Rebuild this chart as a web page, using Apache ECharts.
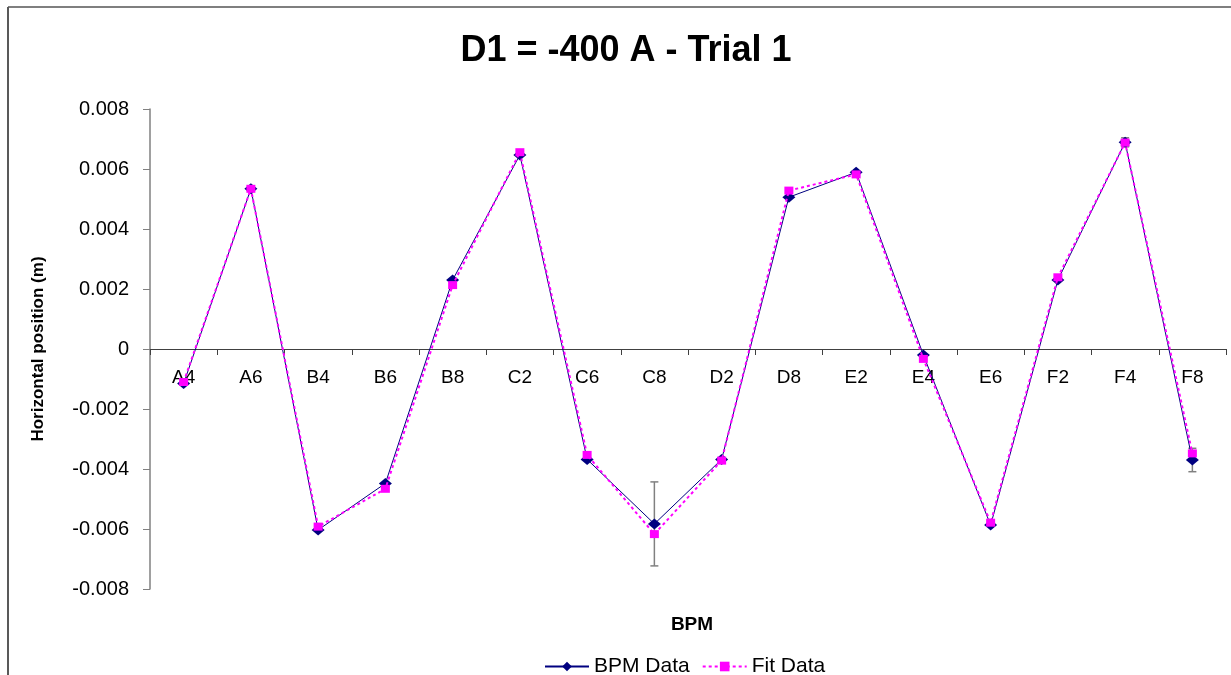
<!DOCTYPE html>
<html>
<head>
<meta charset="utf-8">
<title>D1 = -400 A - Trial 1</title>
<script src="https://cdn.jsdelivr.net/npm/echarts@6/dist/echarts.min.js"></script>
<style>
  html, body { margin: 0; padding: 0; background: #fff; }
  #chart { width: 1231px; height: 675px; }
</style>
</head>
<body>
<div id="chart"></div>
<script>
// BPM names along the ring
const bpmNames = ['A4', 'A6', 'B4', 'B6', 'B8', 'C2', 'C6', 'C8', 'D2', 'D8', 'E2', 'E4', 'E6', 'F2', 'F4', 'F8'];

// Measured horizontal position (m)
const bpmData = [-0.00115, 0.00534, -0.00603, -0.00448, 0.00230, 0.00647, -0.00368, -0.00583,
                 -0.00368, 0.00506, 0.00589, -0.00020, -0.00587, 0.00230, 0.00689, -0.00370];

// Measurement uncertainty (m)
const bpmError = [0, 0, 0, 0, 0, 0, 0, 0.00140,
                  0, 0, 0, 0, 0, 0, 0.00015, 0.00039];

// Fitted horizontal position (m)
const fitData = [-0.00110, 0.00534, -0.00592, -0.00466, 0.00213, 0.00656, -0.00353, -0.00617,
                 -0.00372, 0.00528, 0.00582, -0.00033, -0.00579, 0.00239, 0.00688, -0.00348];

// Y axis ticks
const yMin = -0.008, yMax = 0.008, yStep = 0.002;

const FONT = 'Liberation Sans, Arial, sans-serif';
const GRID_TOP = 109, GRID_BOTTOM = 86, CHART_H = 675;
// the category axis sits on the zero line, half way down the symmetric value range
const plotH = CHART_H - GRID_TOP - GRID_BOTTOM;
const zeroOffset = -plotH * (0 - yMin) / (yMax - yMin);

const chart = echarts.init(document.getElementById('chart'), null, { renderer: 'canvas' });

function renderErrorBar(params, api) {
  const err = api.value(2);
  if (!err) return null;
  const i = api.value(0), v = api.value(1);
  const hi = api.coord([i, v + err]);
  const lo = api.coord([i, v - err]);
  const cap = 4;
  const style = { stroke: '#808080', lineWidth: 1.5 };
  return {
    type: 'group',
    children: [
      { type: 'line', shape: { x1: hi[0], y1: hi[1], x2: lo[0], y2: lo[1] }, style },
      { type: 'line', shape: { x1: hi[0] - cap, y1: hi[1], x2: hi[0] + cap, y2: hi[1] }, style },
      { type: 'line', shape: { x1: lo[0] - cap, y1: lo[1], x2: lo[0] + cap, y2: lo[1] }, style }
    ]
  };
}

chart.setOption({
  animation: false,
  backgroundColor: '#ffffff',
  title: [
    {
      text: 'D1 = -400 A - Trial 1',
      left: 621, top: 28, textAlign: 'center',
      textStyle: { fontFamily: FONT, fontSize: 36, fontWeight: 'bold', color: '#000' }
    },
    {
      text: 'BPM',
      left: 687, top: 610, textAlign: 'center',
      textStyle: { fontFamily: FONT, fontSize: 19, fontWeight: 'bold', color: '#000' }
    }
  ],
  graphic: [
    { type: 'line', shape: { x1: 8, y1: 7, x2: 1231, y2: 7 }, style: { stroke: '#7f7f7f', lineWidth: 2 } },
    { type: 'line', shape: { x1: 8, y1: 7, x2: 8, y2: 675 }, style: { stroke: '#595959', lineWidth: 2 } }
  ],
  legend: {
    left: 539, top: 651,
    itemWidth: 44, itemHeight: 12, itemGap: 12,
    data: ['BPM Data', 'Fit Data'],
    textStyle: { fontFamily: FONT, fontSize: 21, color: '#000' }
  },
  grid: { left: 150, right: 5, top: GRID_TOP, bottom: GRID_BOTTOM },
  xAxis: {
    type: 'category',
    data: bpmNames,
    boundaryGap: true,
    position: 'bottom',
    offset: zeroOffset,
    axisLine: { onZero: false, lineStyle: { color: '#404040', width: 1 } },
    axisTick: { show: true, inside: false, length: 6, alignWithLabel: false, lineStyle: { color: '#404040' } },
    axisLabel: { margin: 19, fontFamily: FONT, fontSize: 19, color: '#000', interval: 0 },
    splitLine: { show: false }
  },
  yAxis: {
    type: 'value',
    min: yMin, max: yMax, interval: yStep,
    name: 'Horizontal position (m)',
    nameLocation: 'middle',
    nameGap: 103,
    nameTextStyle: { fontFamily: FONT, fontSize: 17, fontWeight: 'bold', color: '#000' },
    axisLine: { show: true, lineStyle: { color: '#808080', width: 1.5 } },
    axisTick: { show: true, length: 7, lineStyle: { color: '#808080' } },
    axisLabel: {
      margin: 21, fontFamily: FONT, fontSize: 20, color: '#000',
      formatter: v => (Math.abs(v) < 1e-12 ? '0' : v.toFixed(3))
    },
    splitLine: { show: false }
  },
  series: [
    {
      name: 'error',
      type: 'custom',
      renderItem: renderErrorBar,
      data: bpmNames.map((_, i) => [i, bpmData[i], bpmError[i]]),
      encode: { x: 0, y: 1 },
      z: 1,
      silent: true
    },
    {
      name: 'BPM Data',
      type: 'line',
      data: bpmData,
      symbol: 'diamond',
      symbolSize: [13, 11],
      itemStyle: { color: '#000080' },
      lineStyle: { color: '#000080', width: 1 },
      z: 3
    },
    {
      name: 'Fit Data',
      type: 'line',
      data: fitData,
      symbol: 'rect',
      symbolSize: [9, 8],
      itemStyle: { color: '#ff00ff' },
      lineStyle: { color: '#ff00ff', width: 2, type: [3, 3] },
      z: 4
    }
  ]
});
</script>
</body>
</html>
